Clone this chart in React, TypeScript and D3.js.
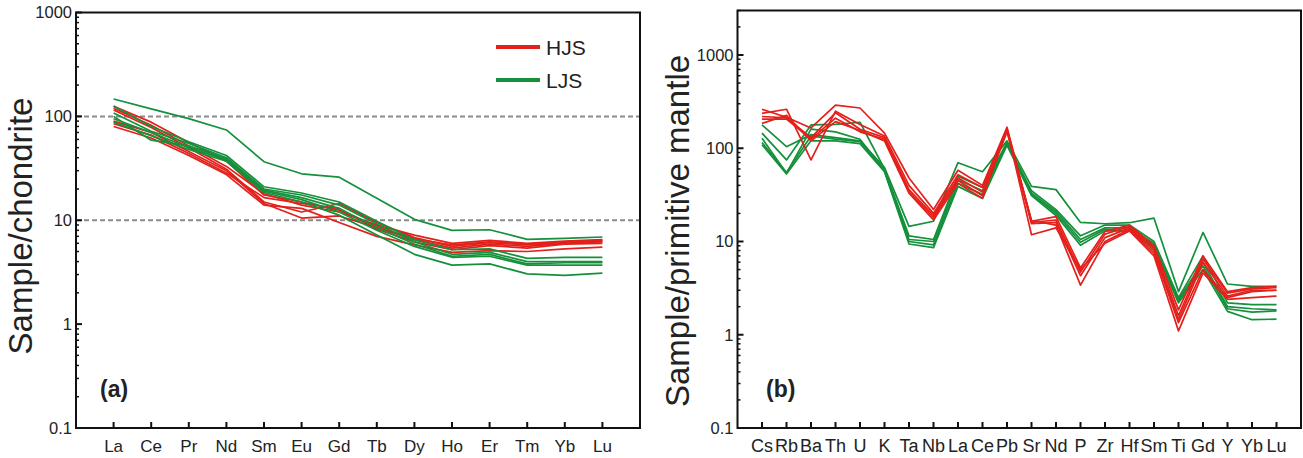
import React from "react";
import * as d3 from "d3";

const REE = ["La","Ce","Pr","Nd","Sm","Eu","Gd","Tb","Dy","Ho","Er","Tm","Yb","Lu"];
const SPIDER = ["Cs","Rb","Ba","Th","U","K","Ta","Nb","La","Ce","Pb","Sr","Nd","P","Zr","Hf","Sm","Ti","Gd","Y","Yb","Lu"];

const reeHJS: number[][] = [
  [120, 82, 52, 33, 18, 14, 12, 9.0, 7.2, 6.0, 6.4, 6.0, 6.3, 6.5],
  [115, 78, 50, 31, 15, 12, 14.5, 9.5, 6.8, 5.6, 6.1, 5.8, 6.1, 6.3],
  [90, 70, 46, 30, 14.5, 10.5, 11, 8.5, 6.5, 5.4, 5.9, 5.6, 6.0, 6.2],
  [85, 66, 44, 28.5, 16.5, 14.5, 13, 8.2, 6.2, 5.2, 5.7, 5.4, 5.9, 6.0],
  [80, 62, 42, 27.5, 14, 13, 9.5, 7.0, 5.8, 4.9, 5.1, 5.0, 5.3, 5.5],
  [125, 88, 56, 37, 17.5, 15, 12.5, 8.8, 6.6, 5.8, 6.2, 5.9, 6.2, 6.4],
];
const reeLJS: number[][] = [
  [147, 118, 95, 74, 36.6, 28, 26, 16.3, 10.2, 8.0, 8.1, 6.55, 6.7, 6.9],
  [126, 80, 57, 42, 21, 18.3, 15, 9.8, 6.5, 5.2, 5.3, 4.3, 4.4, 4.4],
  [108, 72, 55, 40, 20, 17.5, 14, 9.2, 6.2, 4.7, 4.9, 4.0, 4.0, 4.0],
  [100, 59, 52, 39, 19.5, 16.5, 13, 8.5, 5.9, 4.5, 4.7, 3.8, 3.9, 3.9],
  [95, 70, 50, 38, 19, 15.8, 12, 8.0, 5.6, 4.4, 4.5, 3.7, 3.7, 3.7],
  [88, 65, 48, 37, 18.5, 15, 11.2, 7.2, 4.7, 3.7, 3.8, 3.05, 2.95, 3.1],
];

const spHJS: number[][] = [
  [262, 215, 165, 290, 270, 145, 48, 22, 58, 40, 168, 16.5, 18.5, 5.2, 12.8, 15.0, 9.0, 1.85, 7.0, 2.9, 3.2, 3.3],
  [237, 262, 75, 250, 180, 135, 40, 20, 52, 38, 162, 16.0, 17.0, 4.7, 12.0, 14.5, 8.5, 1.6, 6.5, 2.8, 3.1, 3.2],
  [219, 212, 130, 240, 160, 130, 36, 19, 48, 34, 156, 15.5, 16.0, 4.3, 11.0, 14.0, 8.0, 1.45, 6.0, 2.6, 3.0, 3.0],
  [205, 205, 125, 210, 150, 125, 34, 18, 45, 31, 150, 16.8, 15.0, 3.4, 10.0, 13.5, 7.5, 1.35, 5.0, 2.5, 2.9, 3.0],
  [185, 225, 120, 193, 155, 120, 33, 17, 42, 29, 160, 11.8, 14.0, 5.0, 9.6, 13.0, 7.0, 1.1, 4.6, 2.4, 2.5, 2.6],
];
const spLJS: number[][] = [
  [178, 104, 140, 130, 120, 62, 14.5, 16.5, 70, 56, 120, 39, 36, 16, 15.5, 15.9, 17.8, 2.9, 12.5, 3.5, 3.3, 3.3],
  [145, 75, 178, 180, 190, 60, 11.5, 10.5, 50, 38, 115, 35, 22, 11.5, 15, 15, 10, 2.5, 7.0, 2.2, 2.1, 2.1],
  [128, 54, 160, 150, 125, 58, 10.5, 10, 46, 35, 112, 33, 21, 10.5, 14, 14, 9.5, 2.4, 6.0, 2.0, 1.9, 1.85],
  [115, 55, 135, 125, 118, 57, 10, 9.2, 42, 32, 110, 32, 20, 9.8, 13.5, 13, 9.0, 2.3, 5.5, 1.9, 1.75, 1.8],
  [109, 53, 120, 120, 112, 56, 9.4, 8.6, 39, 29, 108, 31, 19, 9.1, 13, 13, 8.5, 2.2, 5.0, 1.78, 1.45, 1.47],
];

const aTicks = [0.1, 1, 10, 100, 1000];
const bTicks = [0.1, 1, 10, 100, 1000];
const dashedLevels = [10, 100];

const RED = "#e3201b";
const GREEN = "#15903b";
const FONT = "'Liberation Sans', Arial, sans-serif";

function minorTicks(lo: number, hi: number): number[] {
  const out: number[] = [];
  for (let d = lo; d < hi; d *= 10) {
    for (let k = 2; k <= 9; k++) {
      const v = d * k;
      if (v <= hi * 1.0001) out.push(v);
    }
  }
  return out;
}

type PanelProps = {
  cats: string[];
  red: number[][];
  green: number[][];
  x0: number; x1: number; y0: number; y1: number;
  ymax: number;
  ticks: number[];
  title: string;
  titleX: number;
  titleY: number;
  tag: string;
  tagX: number;
  redOnTop: boolean;
  xFont: number;
  dashed?: number[];
  legend?: boolean;
};

function Panel(p: PanelProps) {
  const x = d3.scalePoint<string>().domain(p.cats).range([p.x0, p.x1]).padding(1);
  const y = d3.scaleLog().domain([0.1, p.ymax]).range([p.y1, p.y0]);
  const line = d3.line<number>().x((_, i) => x(p.cats[i]) as number).y(d => y(d));
  const minors = minorTicks(0.1, p.ymax);
  const redPaths = p.red.map((s, i) => <path key={"r" + i} d={line(s) || ""} fill="none" stroke={RED} strokeWidth={1.7} strokeLinejoin="round" />);
  const greenPaths = p.green.map((s, i) => <path key={"g" + i} d={line(s) || ""} fill="none" stroke={GREEN} strokeWidth={1.7} strokeLinejoin="round" />);
  return (
    <g>
      {(p.dashed || []).map(v => (
        <line key={"d" + v} x1={p.x0} x2={p.x1} y1={y(v)} y2={y(v)} stroke="#8a8a8a" strokeWidth={2} strokeDasharray="5,3" />
      ))}
      {p.redOnTop ? <>{greenPaths}{redPaths}</> : <>{redPaths}{greenPaths}</>}
      <rect x={p.x0} y={p.y0} width={p.x1 - p.x0} height={p.y1 - p.y0} fill="none" stroke="#111" strokeWidth={2} />
      {p.ticks.map(v => (
        <g key={"t" + v}>
          <line x1={p.x0} x2={p.x0 + 6} y1={y(v)} y2={y(v)} stroke="#111" strokeWidth={2} />
          <text x={p.x0 - 4} y={y(v)} dy="0.35em" textAnchor="end" fontSize={16.5} fontFamily={FONT} fill="#222">{v}</text>
        </g>
      ))}
      {minors.map(v => (
        <line key={"m" + v} x1={p.x0} x2={p.x0 + 3} y1={y(v)} y2={y(v)} stroke="#111" strokeWidth={1.5} />
      ))}
      {p.cats.map(c => (
        <g key={"x" + c}>
          <line x1={x(c)} x2={x(c)} y1={p.y1} y2={p.y1 - 6} stroke="#111" strokeWidth={2} />
          <text x={x(c)} y={p.y1 + 24} textAnchor="middle" fontSize={p.xFont} fontFamily={FONT} fill="#222">{c}</text>
        </g>
      ))}
      <text transform={`translate(${p.titleX},${p.titleY}) rotate(-90)`} textAnchor="middle" fontSize={33} fontFamily={FONT} fill="#222">{p.title}</text>
      <text x={p.tagX} y={p.y1 - 31} fontSize={23} fontWeight="bold" fontFamily={FONT} fill="#222">{p.tag}</text>
      {p.legend && (
        <g>
          <line x1={496} x2={540} y1={47} y2={47} stroke={RED} strokeWidth={4} />
          <text x={546} y={47} dy="0.36em" fontSize={21} fontFamily={FONT} fill="#222">HJS</text>
          <line x1={496} x2={540} y1={80} y2={80} stroke={GREEN} strokeWidth={4} />
          <text x={546} y={80} dy="0.36em" fontSize={21} fontFamily={FONT} fill="#222">LJS</text>
        </g>
      )}
    </g>
  );
}

export default function App() {
  return (
    <svg width={1303} height={458} style={{ position: "absolute", left: 0, top: 0, background: "#fff" }}>
      <rect width={1303} height={458} fill="#fff" />
      <Panel cats={REE} red={reeHJS} green={reeLJS} x0={76} x1={640} y0={12.5} y1={428} ymax={1000}
        ticks={aTicks} title="Sample/chondrite" titleX={32} titleY={226} tag="(a)" tagX={100}
        redOnTop={false} xFont={17} dashed={dashedLevels} legend />
      <Panel cats={SPIDER} red={spHJS} green={spLJS} x0={737.5} x1={1301} y0={10.5} y1={428} ymax={3000}
        ticks={bTicks} title="Sample/primitive mantle" titleX={689} titleY={231} tag="(b)" tagX={766}
        redOnTop={true} xFont={18} />
    </svg>
  );
}
